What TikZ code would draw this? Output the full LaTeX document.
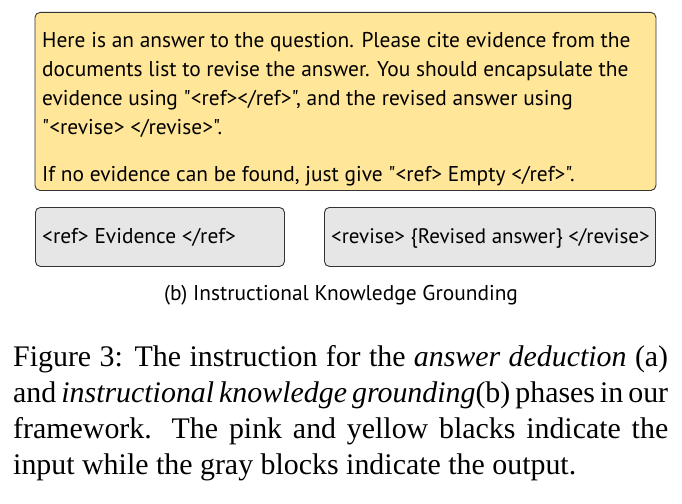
\documentclass[tikz,border=0pt]{standalone}
\usepackage{fontspec}
\setmainfont{Liberation Serif}
\newfontfamily\promptfont{PT Sans}
\usetikzlibrary{positioning}
\definecolor{promptyellow}{HTML}{FFE699}
\definecolor{outgray}{HTML}{E7E6E6}

\begin{document}
\begin{tikzpicture}[
    x=1pt, y=-1pt,
    % Prompt Block Style
    promptbox/.style={draw=black!80, rectangle, rounded corners=5pt, fill=promptyellow, line width=0.9pt, anchor=north west, inner sep=0pt},
    % Output Block Style
    outbox/.style={promptbox, fill=outgray},
    % Text Styles
    prompttext/.style={font=\promptfont\fontsize{21.4}{29}\selectfont, inner sep=0pt, anchor=base west, align=left},
    captext/.style={font=\fontsize{29.9}{36.3}\selectfont, inner sep=0pt, anchor=base west, text width=655pt, align=justify}
]
\useasboundingbox (0,0) rectangle (682,503);

% ================= Blocks =================
\node[promptbox, minimum width=621pt, minimum height=178pt] (instr) at (34.5,12) {};
\node[outbox, minimum width=249pt, minimum height=59pt] (refout) at (35,207) {};
\node[outbox, minimum width=331pt, minimum height=59pt] (reviseout) at (324,207) {};

% ================= Texts =================
% (base anchor = last line here)
\node[prompttext] (instrtext) at (42,181) {Here is an answer to the question. Please cite evidence from the\\
documents list to revise the answer. You should encapsulate the\\
evidence using "<ref></ref>", and the revised answer using\\
"<revise> </revise>".\\[18pt]
If no evidence can be found, just give "<ref> Empty </ref>".};
\node[prompttext] (reftext) at (42,243) {<ref> Evidence </ref>};
\node[prompttext, font=\promptfont\fontsize{21}{29}\selectfont] (revisetext) at (331,243) {<revise> \{Revised answer\} </revise>};

% Sub-caption
\node[prompttext, anchor=base] (subcap) at (341,300) {(b) Instructional Knowledge Grounding};

% Figure caption
\node[captext] (caption) at (13,366) {Figure 3: The instruction for the \textit{answer deduction} (a)\linebreak
and \textit{instructional knowledge grounding}(b) phases in our\linebreak
framework. The pink and yellow blacks indicate the\linebreak
input while the gray blocks indicate the output.};

\end{tikzpicture}
\end{document}
